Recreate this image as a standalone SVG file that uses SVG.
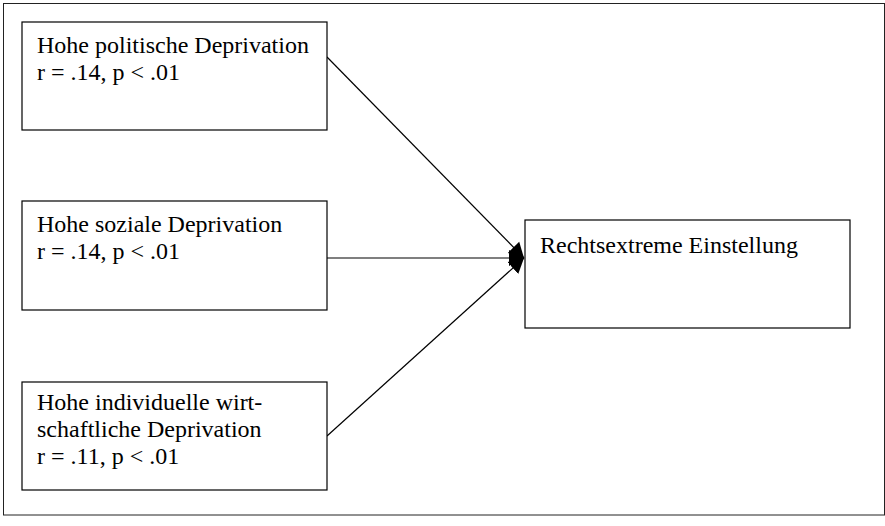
<svg xmlns="http://www.w3.org/2000/svg" width="885" height="526" viewBox="0 0 885 526">
<style>
.frame{fill:#fff;stroke:#222;stroke-width:1}
.box{fill:#fff;stroke:#000;stroke-width:1.2}
.t{font-family:"Liberation Serif","Times New Roman",serif;font-size:24px;fill:#000}
.c{stroke:#000;stroke-width:1.2;fill:none;marker-end:url(#ah)}
</style>
<defs>
<marker id="ah" markerUnits="userSpaceOnUse" markerWidth="24" markerHeight="24" refX="15" refY="9" orient="auto">
<path d="M0,1 L15,9 L0,17 Z" fill="#000"/>
</marker>
</defs>
<rect class="frame" x="3.5" y="3.5" width="881" height="511.5"/>
<g id="connectors">
<line class="c" x1="327" y1="57" x2="524" y2="258"/>
<line class="c" x1="327" y1="258" x2="524" y2="258"/>
<line class="c" x1="327" y1="436" x2="524" y2="258"/>
</g>
<g id="n1">
<rect class="box" x="22" y="22" width="305" height="108"/>
<text class="t" x="37" y="53">Hohe politische Deprivation</text>
<text class="t" x="37" y="80">r = .14, p &lt; .01</text>
</g>
<g id="n2">
<rect class="box" x="22" y="201" width="305" height="109"/>
<text class="t" x="37" y="232">Hohe soziale Deprivation</text>
<text class="t" x="37" y="259">r = .14, p &lt; .01</text>
</g>
<g id="n3">
<rect class="box" x="22" y="382" width="305" height="108"/>
<text class="t" x="37" y="410">Hohe individuelle wirt-</text>
<text class="t" x="37" y="437">schaftliche Deprivation</text>
<text class="t" x="37" y="464">r = .11, p &lt; .01</text>
</g>
<g id="n4">
<rect class="box" x="525" y="220" width="325" height="108"/>
<text class="t" x="540" y="253">Rechtsextreme Einstellung</text>
</g>
</svg>
